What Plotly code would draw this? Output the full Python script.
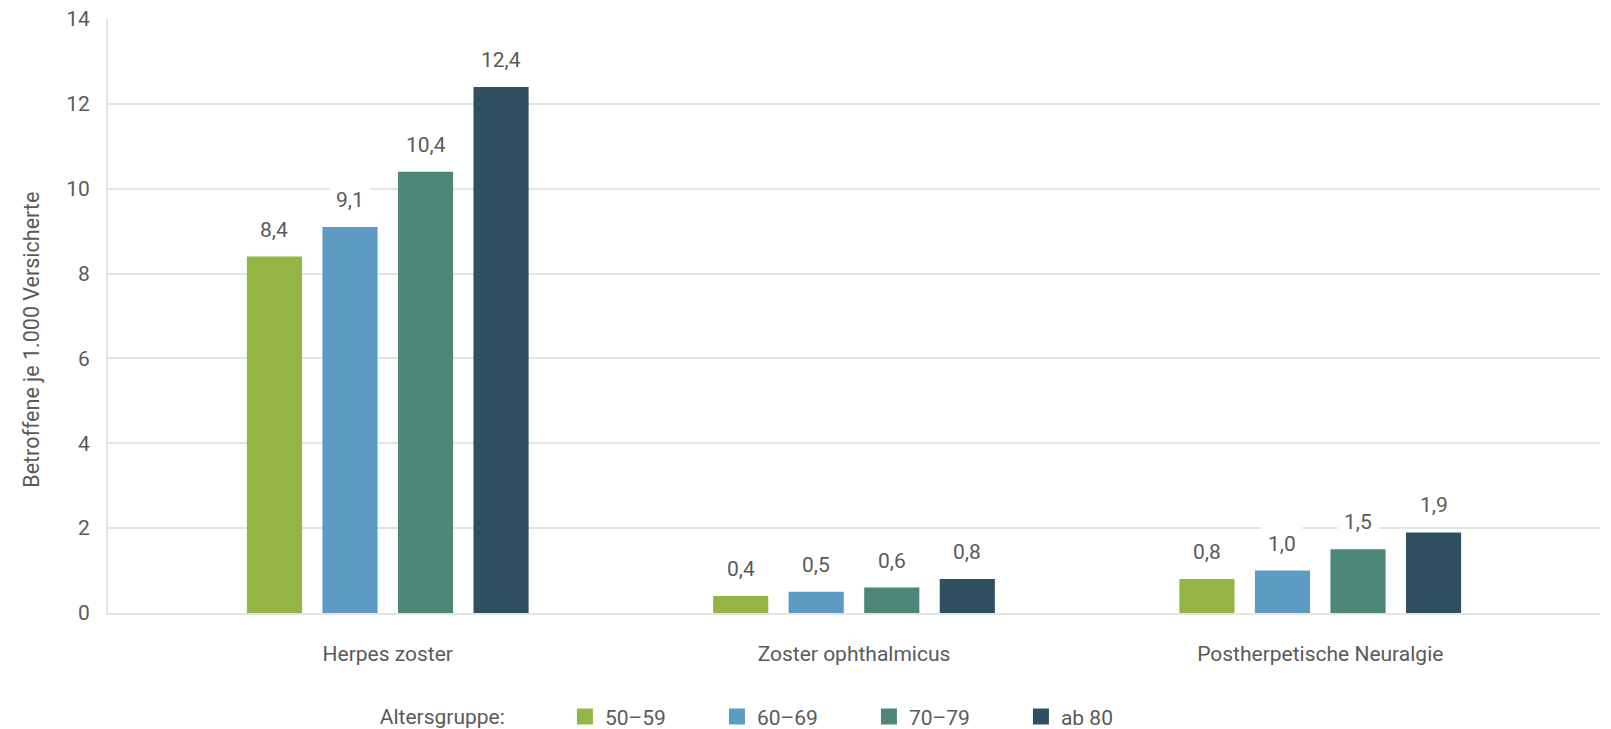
import plotly.graph_objects as go

# Betroffene je 1.000 Versicherte nach Diagnose und Altersgruppe
categories = ["Herpes zoster", "Zoster ophthalmicus", "Postherpetische Neuralgie"]
age_groups = ["50–59", "60–69", "70–79", "ab 80"]
values_50_59 = [8.4, 0.4, 0.8]
values_60_69 = [9.1, 0.5, 1.0]
values_70_79 = [10.4, 0.6, 1.5]
values_ab_80 = [12.4, 0.8, 1.9]
y_ticks = [0, 2, 4, 6, 8, 10, 12, 14]

series = [values_50_59, values_60_69, values_70_79, values_ab_80]
colors = ["#93b543", "#5d9bc3", "#4e867a", "#305061"]

FONT = "Roboto, Open Sans, sans-serif"
FS = 21
TEXT_COLOR = "#5a5a5a"
GRID_COLOR = "#e4e4e4"
BARGAP = 0.352
BARGROUPGAP = 0.27

fig = go.Figure()

for name, vals, col in zip(age_groups, series, colors):
    fig.add_trace(go.Bar(
        x=categories, y=vals, name=name,
        marker=dict(color=col, line=dict(width=0)),
        showlegend=False,
        hoverinfo="x+y+name",
    ))

# legend entries with larger square swatches
for name, col in zip(age_groups, colors):
    fig.add_trace(go.Scatter(
        x=[None], y=[None], mode="markers", name=name,
        marker=dict(symbol="square", size=20, color=col),
        showlegend=True,
    ))

# value labels above each bar, placed at the grouped bar centres
slot = (1 - BARGAP) / len(series)
annotations = []
for si, vals in enumerate(series):
    for ci, v in enumerate(vals):
        annotations.append(dict(
            x=ci + (si - (len(series) - 1) / 2) * slot,
            y=v, xref="x", yref="y",
            text=f"{v:.1f}".replace(".", ","),
            showarrow=False, yanchor="bottom", yshift=8,
            bgcolor="white", borderpad=6,
            font=dict(family=FONT, size=FS, color=TEXT_COLOR),
        ))

# y-axis title
annotations.append(dict(
    text="Betroffene je 1.000 Versicherte",
    xref="paper", yref="paper", x=0, y=0.46, xshift=-76,
    textangle=-90, showarrow=False, xanchor="center", yanchor="middle",
    font=dict(family=FONT, size=21.5, color=TEXT_COLOR),
))

fig.update_layout(
    width=1611, height=729,
    margin=dict(l=108, r=11, t=19, b=116, autoexpand=False),
    paper_bgcolor="white", plot_bgcolor="white",
    barmode="group", bargap=BARGAP, bargroupgap=BARGROUPGAP,
    font=dict(family=FONT, size=FS, color=TEXT_COLOR),
    annotations=annotations,
    xaxis=dict(
        type="category", range=[-0.6, len(categories) - 0.4],
        automargin=False,
        showgrid=False, showline=True, linecolor=GRID_COLOR, linewidth=2,
        ticks="", ticklabelstandoff=21,
        tickfont=dict(family=FONT, size=FS, color=TEXT_COLOR),
    ),
    yaxis=dict(
        range=[0, 14], tickvals=y_ticks, automargin=False,
        showgrid=True, gridcolor=GRID_COLOR, gridwidth=2,
        zeroline=False, showline=True, linecolor=GRID_COLOR, linewidth=2,
        ticks="", ticklabelstandoff=12,
        tickfont=dict(family=FONT, size=FS, color=TEXT_COLOR),
    ),
    legend=dict(
        orientation="h", xref="container", yref="container",
        x=0.2345, xanchor="left", y=0.0165, yanchor="middle",
        title=dict(text="Altersgruppe:" + "\u00a0" * 10, side="left",
                   font=dict(family=FONT, size=FS, color=TEXT_COLOR)),
        entrywidth=107, entrywidthmode="pixels",
        font=dict(family=FONT, size=FS, color=TEXT_COLOR),
        bgcolor="rgba(0,0,0,0)",
    ),
)

fig.write_html("out.html")
